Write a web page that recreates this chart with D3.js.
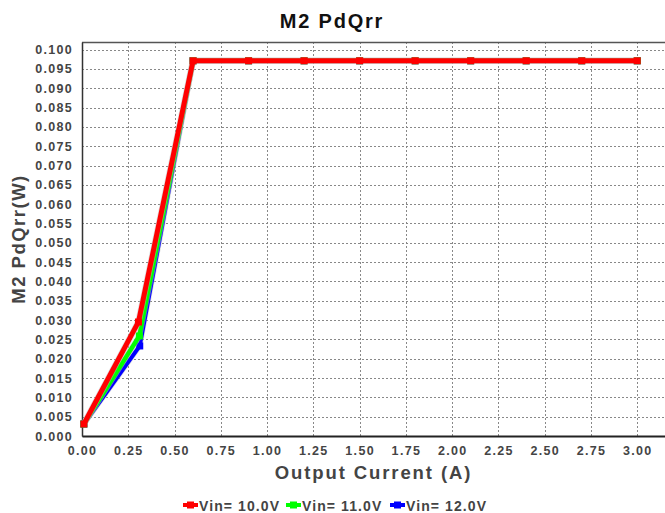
<!DOCTYPE html>
<html>
<head>
<meta charset="utf-8">
<script src="https://cdn.jsdelivr.net/npm/d3@7"></script>
<style>
  body { margin: 0; background: #fff; }
  text { font-family: "Liberation Sans", Arial, sans-serif; font-weight: bold; }
</style>
</head>
<body>
<div id="chart"></div>
<script>
// series data
var seriesNames = ["Vin= 10.0V", "Vin= 11.0V", "Vin= 12.0V"];
var seriesColors = ["#ff0000", "#00ff00", "#0000ff"];
var xVin10 = [0.01, 0.305, 0.6, 0.9, 1.2, 1.5, 1.8, 2.1, 2.4, 2.7, 3.0];
var yVin10 = [0.0031, 0.0295, 0.0971, 0.0971, 0.0971, 0.0971, 0.0971, 0.0971, 0.0971, 0.0971, 0.0971];
var xVin11 = [0.01, 0.31, 0.6, 0.9, 1.2, 1.5, 1.8, 2.1, 2.4, 2.7, 3.0];
var yVin11 = [0.0031, 0.0259, 0.0971, 0.0971, 0.0971, 0.0971, 0.0971, 0.0971, 0.0971, 0.0971, 0.0971];
var xVin12 = [0.01, 0.312, 0.6, 0.9, 1.2, 1.5, 1.8, 2.1, 2.4, 2.7, 3.0];
var yVin12 = [0.0031, 0.0233, 0.0971, 0.0971, 0.0971, 0.0971, 0.0971, 0.0971, 0.0971, 0.0971, 0.0971];
var xTicks = [0, 0.25, 0.5, 0.75, 1.0, 1.25, 1.5, 1.75, 2.0, 2.25, 2.5, 2.75, 3.0];
var yTicks = d3.range(0, 21).map(function(i) { return i * 0.005; });

var width = 665, height = 513;
var margin = {left: 82, top: 42, right: 0, bottom: 77};

var svg = d3.select("#chart").append("svg")
  .attr("width", width)
  .attr("height", height);

var xScale = d3.scaleLinear()
  .domain([0, 3.15])
  .range([margin.left, width - margin.right]);

var yScale = d3.scaleLinear()
  .domain([0, 0.10196])
  .range([height - margin.bottom, margin.top]);

// grid
svg.append("g").selectAll("line.gy")
  .data(yTicks)
 .enter().append("line")
  .attr("x1", xScale(0)).attr("x2", width)
  .attr("y1", function(d) { return Math.round(yScale(d)) + 0.5; })
  .attr("y2", function(d) { return Math.round(yScale(d)) + 0.5; })
  .style("stroke", "#888").style("stroke-dasharray", "2,2");

svg.append("g").selectAll("line.gx")
  .data(xTicks.slice(1))
 .enter().append("line")
  .attr("y1", yScale.range()[0]).attr("y2", margin.top)
  .attr("x1", function(d) { return Math.round(xScale(d)) + 0.5; })
  .attr("x2", function(d) { return Math.round(xScale(d)) + 0.5; })
  .style("stroke", "#888").style("stroke-dasharray", "2,2");

// frame
svg.append("line")
  .attr("x1", margin.left).attr("x2", width)
  .attr("y1", margin.top + 0.5).attr("y2", margin.top + 0.5)
  .style("stroke", "#555").style("stroke-width", 1.5);

var xAxis = d3.axisBottom(xScale).tickValues(xTicks).tickSize(0).tickPadding(10)
  .tickFormat(d3.format(".2f"));
var yAxis = d3.axisLeft(yScale).tickValues(yTicks).tickSize(0).tickPadding(9)
  .tickFormat(d3.format(".3f"));

var gx = svg.append("g")
  .attr("class", "x axis")
  .attr("transform", "translate(0," + yScale(0) + ")")
  .call(xAxis);
gx.select(".domain").style("stroke", "#222").style("stroke-width", 2);

var gy = svg.append("g")
  .attr("class", "y axis")
  .attr("transform", "translate(" + xScale(0) + ",0)")
  .call(yAxis);
gy.select(".domain").style("stroke", "#333").style("stroke-width", 1.5);

svg.selectAll(".axis text")
  .style("fill", "#444")
  .style("font-size", "12.5px")
  .style("font-family", "'Liberation Sans', Arial, sans-serif")
  .style("font-weight", "bold")
  .style("letter-spacing", "1.3px");

// lines, drawn blue first so red stays on top
var series = [
  {name: seriesNames[2], color: seriesColors[2], xs: xVin12, ys: yVin12, w: 4},
  {name: seriesNames[1], color: seriesColors[1], xs: xVin11, ys: yVin11, w: 4.5},
  {name: seriesNames[0], color: seriesColors[0], xs: xVin10, ys: yVin10, w: 5}
];

var line = d3.line()
  .x(function(d) { return xScale(d[0]); })
  .y(function(d) { return yScale(d[1]); });

series.forEach(function(s) {
  var pts = s.xs.map(function(v, i) { return [v, s.ys[i]]; });
  svg.append("path")
    .datum(pts)
    .attr("d", line)
    .style("fill", "none")
    .style("stroke", "#bbb")
    .style("stroke-width", s.w + 1.5)
    .style("stroke-linejoin", "miter")
    .style("opacity", 0.5);
  svg.append("path")
    .datum(pts)
    .attr("d", line)
    .style("fill", "none")
    .style("stroke", s.color)
    .style("stroke-width", s.w)
    .style("stroke-linejoin", "miter");
  svg.selectAll(null)
    .data(pts)
   .enter().append("rect")
    .attr("x", function(d) { return xScale(d[0]) - 3.5; })
    .attr("y", function(d) { return yScale(d[1]) - 3.5; })
    .attr("width", 7).attr("height", 7)
    .style("fill", s.color);
});

// titles
svg.append("text")
  .attr("x", 332).attr("y", 28)
  .attr("text-anchor", "middle")
  .style("font-size", "20px").style("fill", "#111")
  .style("letter-spacing", "1.8px")
  .text("M2 PdQrr");

svg.append("text")
  .attr("x", (xScale.range()[0] + xScale.range()[1]) / 2).attr("y", 479)
  .attr("text-anchor", "middle")
  .style("font-size", "18.5px").style("fill", "#444")
  .style("letter-spacing", "1.9px")
  .text("Output Current (A)");

svg.append("text")
  .attr("transform", "translate(25," + (yScale.range()[0] + yScale.range()[1]) / 2 + ") rotate(-90)")
  .attr("text-anchor", "middle")
  .style("font-size", "18.5px").style("fill", "#444")
  .style("letter-spacing", "1.5px")
  .text("M2 PdQrr(W)");

// legend
var legendX = [183, 286, 390];
var legend = svg.selectAll(".legendItem")
  .data(seriesNames)
 .enter().append("g")
  .attr("class", "legendItem")
  .attr("transform", function(d, i) { return "translate(" + legendX[i] + ",505)"; });

legend.append("line")
  .attr("x1", 0).attr("x2", 15)
  .style("stroke", function(d, i) { return seriesColors[i]; })
  .style("stroke-width", 4);
legend.append("rect")
  .attr("x", 4).attr("y", -3.5).attr("width", 7).attr("height", 7)
  .style("fill", function(d, i) { return seriesColors[i]; });
legend.append("text")
  .attr("x", 16).attr("y", 5.5)
  .style("font-size", "14px").style("fill", "#444")
  .style("letter-spacing", "1.1px")
  .text(function(d) { return d; });
</script>
</body>
</html>
